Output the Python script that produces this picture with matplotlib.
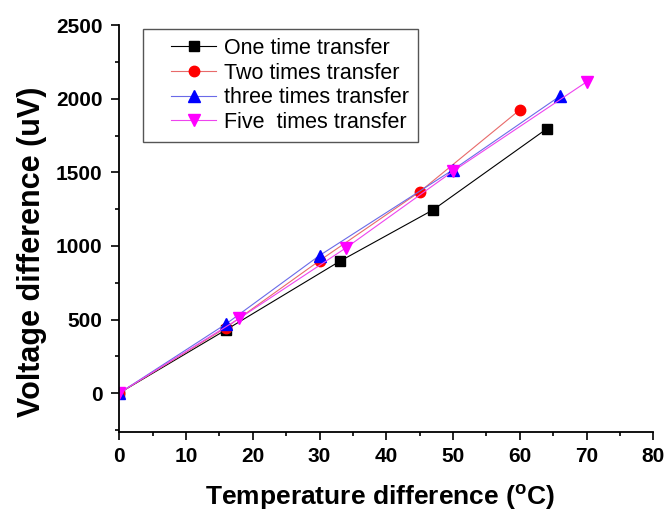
import matplotlib
matplotlib.use('Agg')
import matplotlib.pyplot as plt
from matplotlib.lines import Line2D
from matplotlib.legend_handler import HandlerLine2D
from matplotlib.ticker import MultipleLocator

plt.rcParams['font.family'] = ['Liberation Sans', 'DejaVu Sans']

# data
x_one = [0, 16, 33, 47, 64]
y_one = [0, 430, 895, 1245, 1795]
x_two = [0, 16, 30, 45, 60]
y_two = [0, 445, 900, 1368, 1925]
x_three = [0, 16, 30, 50, 66]
y_three = [0, 470, 935, 1518, 2018]
x_five = [0, 18, 34, 50, 70]
y_five = [0, 508, 988, 1508, 2115]

fig = plt.figure(figsize=(6.66, 5.15), dpi=100)
ax = fig.add_axes([0.179, 0.161, 0.802, 0.79])

ax.plot(x_one, y_one, color='black', lw=0.8, marker='s', ms=6.5, label='One time transfer')
ax.plot(x_two, y_two, color='#e86a6a', lw=0.8, marker='o', ms=7.5,
        mfc='red', mec='red', label='Two times transfer')
ax.plot(x_three, y_three, color='#6a6ae8', lw=0.8, marker='^', ms=8,
        mfc='blue', mec='blue', label='three times transfer')
ax.plot(x_five, y_five, color='#ee44ee', lw=0.8, marker='v', ms=8,
        mfc='magenta', mec='magenta', label='Five  times transfer')

ax.set_xlim(0, 80)
ax.set_ylim(-265, 2500)
ax.xaxis.set_major_locator(MultipleLocator(10))
ax.xaxis.set_minor_locator(MultipleLocator(5))
ax.yaxis.set_major_locator(MultipleLocator(500))
ax.yaxis.set_minor_locator(MultipleLocator(250))
ax.tick_params(which='major', direction='out', length=6, width=1.2, labelsize=15)
ax.tick_params(which='minor', direction='out', length=3, width=1.2)
ax.tick_params(axis='x', which='major', pad=5)
ax.tick_params(axis='y', which='major', pad=6)
for t in ax.get_xticklabels() + ax.get_yticklabels():
    t.set_fontweight('bold')

ax.spines['top'].set_visible(False)
ax.spines['right'].set_visible(False)
ax.spines['left'].set_linewidth(1.3)
ax.spines['bottom'].set_linewidth(1.3)

ax.set_xlabel('Temperature difference ($\\mathregular{^{o}}$C)', fontsize=19,
              fontweight='bold')
ax.set_ylabel('Voltage difference (uV)', fontsize=22, fontweight='bold')
ax.xaxis.set_label_coords(0.488, -0.125)
ax.yaxis.set_label_coords(-0.136, 0.442)

# 图例: 左侧留白, 用 xpad 把线往右推
leg = ax.legend(loc='upper left', bbox_to_anchor=(0.045, 0.99), fontsize=15.5,
                fancybox=False, edgecolor='#555555', framealpha=1,
                handlelength=3.0, handletextpad=0.35, borderpad=0.4,
                labelspacing=0.17, borderaxespad=0,
                handler_map={Line2D: HandlerLine2D(xpad=0.9)})
leg.get_frame().set_linewidth(1.0)

fig.savefig('out.png', dpi=100, facecolor='white')
plt.close(fig)
